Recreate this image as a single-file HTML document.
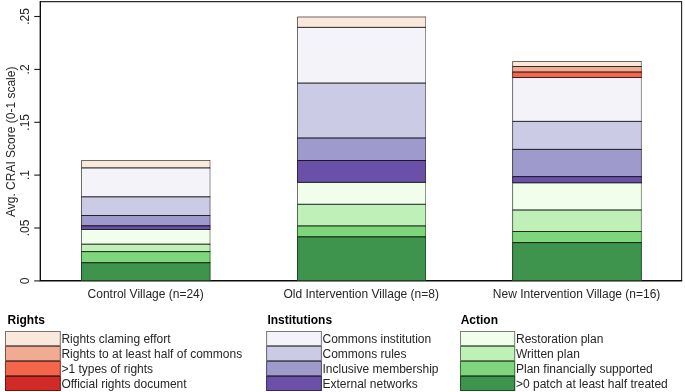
<!DOCTYPE html>
<html><head><meta charset="utf-8"><title>CRAI Score</title>
<style>
html,body{margin:0;padding:0;background:#fff;}
svg{display:block;}
text{font-family:"Liberation Sans",sans-serif;font-size:12px;fill:#262626;}
.b{font-weight:bold;fill:#000;}
</style></head><body>
<svg width="685" height="392" viewBox="0 0 685 392">
<rect x="0" y="0" width="685" height="392" fill="#fff"/>
<path d="M40.3,1.6 H681.6 V280.7" fill="none" stroke="#2a2a2a" stroke-width="1.15"/>
<path d="M40.3,1 V280.7 H682.2" fill="none" stroke="#0a0a0a" stroke-width="1.35" stroke-linecap="butt" stroke-linejoin="miter"/>
<line x1="34.2" y1="280.9" x2="40.3" y2="280.9" stroke="#1a1a1a" stroke-width="1.1"/>
<text transform="translate(29,280.9) rotate(-90)" text-anchor="middle">0</text>
<line x1="34.2" y1="228.0" x2="40.3" y2="228.0" stroke="#1a1a1a" stroke-width="1.1"/>
<text transform="translate(29,228.0) rotate(-90)" text-anchor="middle">.05</text>
<line x1="34.2" y1="175.1" x2="40.3" y2="175.1" stroke="#1a1a1a" stroke-width="1.1"/>
<text transform="translate(29,175.1) rotate(-90)" text-anchor="middle">.1</text>
<line x1="34.2" y1="122.3" x2="40.3" y2="122.3" stroke="#1a1a1a" stroke-width="1.1"/>
<text transform="translate(29,122.3) rotate(-90)" text-anchor="middle">.15</text>
<line x1="34.2" y1="69.4" x2="40.3" y2="69.4" stroke="#1a1a1a" stroke-width="1.1"/>
<text transform="translate(29,69.4) rotate(-90)" text-anchor="middle">.2</text>
<line x1="34.2" y1="16.5" x2="40.3" y2="16.5" stroke="#1a1a1a" stroke-width="1.1"/>
<text transform="translate(29,16.5) rotate(-90)" text-anchor="middle">.25</text>
<text transform="translate(15,141.8) rotate(-90)" text-anchor="middle">Avg. CRAI Score (0-1 scale)</text>
<rect x="81.00" y="160.00" width="129.50" height="8.40" fill="#f9e8dc"/>
<rect x="81.00" y="167.90" width="129.50" height="29.40" fill="#f4f3f9"/>
<rect x="81.00" y="196.80" width="129.50" height="19.20" fill="#cccbe6"/>
<rect x="81.00" y="215.50" width="129.50" height="10.75" fill="#9e9acb"/>
<rect x="81.00" y="225.75" width="129.50" height="4.25" fill="#6a50a8"/>
<rect x="81.00" y="229.50" width="129.50" height="15.20" fill="#f1feec"/>
<rect x="81.00" y="244.20" width="129.50" height="7.90" fill="#bef0b8"/>
<rect x="81.00" y="251.60" width="129.50" height="11.60" fill="#7fd57b"/>
<rect x="81.00" y="262.70" width="129.50" height="18.30" fill="#3e944c"/>
<path d="M81.5,167.9 V160.5 H210.0" fill="none" stroke="#000" stroke-opacity="0.55" stroke-width="1"/>
<path d="M81.5,167.9 H210.0" fill="none" stroke="#000" stroke-opacity="0.55" stroke-width="1"/>
<path d="M210.0,160.00 V168.40" fill="none" stroke="#000" stroke-opacity="0.4" stroke-width="1"/>
<path d="M81.5,196.8 V167.9 H210.0" fill="none" stroke="#000" stroke-opacity="0.55" stroke-width="1"/>
<path d="M81.5,196.8 H210.0" fill="none" stroke="#000" stroke-opacity="0.55" stroke-width="1"/>
<path d="M210.0,167.40 V197.30" fill="none" stroke="#000" stroke-opacity="0.4" stroke-width="1"/>
<path d="M81.5,215.5 V196.8 H210.0" fill="none" stroke="#000" stroke-opacity="0.55" stroke-width="1"/>
<path d="M81.5,215.5 H210.0" fill="none" stroke="#000" stroke-opacity="0.55" stroke-width="1"/>
<path d="M210.0,196.30 V216.00" fill="none" stroke="#000" stroke-opacity="0.4" stroke-width="1"/>
<path d="M81.5,225.75 V215.5 H210.0" fill="none" stroke="#000" stroke-opacity="0.55" stroke-width="1"/>
<path d="M81.5,225.75 H210.0" fill="none" stroke="#000" stroke-opacity="0.55" stroke-width="1"/>
<path d="M210.0,215.00 V226.25" fill="none" stroke="#000" stroke-opacity="0.4" stroke-width="1"/>
<path d="M81.5,229.5 V225.75 H210.0" fill="none" stroke="#000" stroke-opacity="0.55" stroke-width="1"/>
<path d="M81.5,229.5 H210.0" fill="none" stroke="#000" stroke-opacity="0.55" stroke-width="1"/>
<path d="M210.0,225.25 V230.00" fill="none" stroke="#000" stroke-opacity="0.4" stroke-width="1"/>
<path d="M81.5,244.2 V229.5 H210.0" fill="none" stroke="#000" stroke-opacity="0.55" stroke-width="1"/>
<path d="M81.5,244.2 H210.0" fill="none" stroke="#000" stroke-opacity="0.55" stroke-width="1"/>
<path d="M210.0,229.00 V244.70" fill="none" stroke="#000" stroke-opacity="0.4" stroke-width="1"/>
<path d="M81.5,251.6 V244.2 H210.0" fill="none" stroke="#000" stroke-opacity="0.55" stroke-width="1"/>
<path d="M81.5,251.6 H210.0" fill="none" stroke="#000" stroke-opacity="0.55" stroke-width="1"/>
<path d="M210.0,243.70 V252.10" fill="none" stroke="#000" stroke-opacity="0.4" stroke-width="1"/>
<path d="M81.5,262.7 V251.6 H210.0" fill="none" stroke="#000" stroke-opacity="0.55" stroke-width="1"/>
<path d="M81.5,262.7 H210.0" fill="none" stroke="#000" stroke-opacity="0.55" stroke-width="1"/>
<path d="M210.0,251.10 V263.20" fill="none" stroke="#000" stroke-opacity="0.4" stroke-width="1"/>
<path d="M81.5,280.5 V262.7 H210.0" fill="none" stroke="#000" stroke-opacity="0.55" stroke-width="1"/>
<path d="M81.5,280.5 H210.0" fill="none" stroke="#000" stroke-opacity="0.55" stroke-width="1"/>
<path d="M210.0,262.20 V281.00" fill="none" stroke="#000" stroke-opacity="0.4" stroke-width="1"/>
<rect x="297.00" y="16.50" width="129.00" height="11.40" fill="#f9e8dc"/>
<rect x="297.00" y="27.40" width="129.00" height="56.20" fill="#f4f3f9"/>
<rect x="297.00" y="83.10" width="129.00" height="55.40" fill="#cccbe6"/>
<rect x="297.00" y="138.00" width="129.00" height="23.00" fill="#9e9acb"/>
<rect x="297.00" y="160.50" width="129.00" height="22.40" fill="#6a50a8"/>
<rect x="297.00" y="182.40" width="129.00" height="22.40" fill="#f1feec"/>
<rect x="297.00" y="204.30" width="129.00" height="22.10" fill="#bef0b8"/>
<rect x="297.00" y="225.90" width="129.00" height="11.40" fill="#7fd57b"/>
<rect x="297.00" y="236.80" width="129.00" height="44.20" fill="#3e944c"/>
<path d="M297.5,27.4 V17.0 H425.5" fill="none" stroke="#000" stroke-opacity="0.55" stroke-width="1"/>
<path d="M297.5,27.4 H425.5" fill="none" stroke="#000" stroke-opacity="0.55" stroke-width="1"/>
<path d="M425.5,16.50 V27.90" fill="none" stroke="#000" stroke-opacity="0.4" stroke-width="1"/>
<path d="M297.5,83.1 V27.4 H425.5" fill="none" stroke="#000" stroke-opacity="0.55" stroke-width="1"/>
<path d="M297.5,83.1 H425.5" fill="none" stroke="#000" stroke-opacity="0.55" stroke-width="1"/>
<path d="M425.5,26.90 V83.60" fill="none" stroke="#000" stroke-opacity="0.4" stroke-width="1"/>
<path d="M297.5,138.0 V83.1 H425.5" fill="none" stroke="#000" stroke-opacity="0.55" stroke-width="1"/>
<path d="M297.5,138.0 H425.5" fill="none" stroke="#000" stroke-opacity="0.55" stroke-width="1"/>
<path d="M425.5,82.60 V138.50" fill="none" stroke="#000" stroke-opacity="0.4" stroke-width="1"/>
<path d="M297.5,160.5 V138.0 H425.5" fill="none" stroke="#000" stroke-opacity="0.55" stroke-width="1"/>
<path d="M297.5,160.5 H425.5" fill="none" stroke="#000" stroke-opacity="0.55" stroke-width="1"/>
<path d="M425.5,137.50 V161.00" fill="none" stroke="#000" stroke-opacity="0.4" stroke-width="1"/>
<path d="M297.5,182.4 V160.5 H425.5" fill="none" stroke="#000" stroke-opacity="0.55" stroke-width="1"/>
<path d="M297.5,182.4 H425.5" fill="none" stroke="#000" stroke-opacity="0.55" stroke-width="1"/>
<path d="M425.5,160.00 V182.90" fill="none" stroke="#000" stroke-opacity="0.4" stroke-width="1"/>
<path d="M297.5,204.3 V182.4 H425.5" fill="none" stroke="#000" stroke-opacity="0.55" stroke-width="1"/>
<path d="M297.5,204.3 H425.5" fill="none" stroke="#000" stroke-opacity="0.55" stroke-width="1"/>
<path d="M425.5,181.90 V204.80" fill="none" stroke="#000" stroke-opacity="0.4" stroke-width="1"/>
<path d="M297.5,225.9 V204.3 H425.5" fill="none" stroke="#000" stroke-opacity="0.55" stroke-width="1"/>
<path d="M297.5,225.9 H425.5" fill="none" stroke="#000" stroke-opacity="0.55" stroke-width="1"/>
<path d="M425.5,203.80 V226.40" fill="none" stroke="#000" stroke-opacity="0.4" stroke-width="1"/>
<path d="M297.5,236.8 V225.9 H425.5" fill="none" stroke="#000" stroke-opacity="0.55" stroke-width="1"/>
<path d="M297.5,236.8 H425.5" fill="none" stroke="#000" stroke-opacity="0.55" stroke-width="1"/>
<path d="M425.5,225.40 V237.30" fill="none" stroke="#000" stroke-opacity="0.4" stroke-width="1"/>
<path d="M297.5,280.5 V236.8 H425.5" fill="none" stroke="#000" stroke-opacity="0.55" stroke-width="1"/>
<path d="M297.5,280.5 H425.5" fill="none" stroke="#000" stroke-opacity="0.55" stroke-width="1"/>
<path d="M425.5,236.30 V281.00" fill="none" stroke="#000" stroke-opacity="0.4" stroke-width="1"/>
<rect x="512.10" y="61.00" width="129.80" height="6.00" fill="#f9e8dc"/>
<rect x="512.10" y="66.50" width="129.80" height="6.00" fill="#f2ab93"/>
<rect x="512.10" y="72.00" width="129.80" height="6.00" fill="#f4664b"/>
<rect x="512.10" y="77.50" width="129.80" height="44.40" fill="#f4f3f9"/>
<rect x="512.10" y="121.40" width="129.80" height="28.50" fill="#cccbe6"/>
<rect x="512.10" y="149.40" width="129.80" height="27.70" fill="#9e9acb"/>
<rect x="512.10" y="176.60" width="129.80" height="6.70" fill="#6a50a8"/>
<rect x="512.10" y="182.80" width="129.80" height="27.70" fill="#f1feec"/>
<rect x="512.10" y="210.00" width="129.80" height="22.00" fill="#bef0b8"/>
<rect x="512.10" y="231.50" width="129.80" height="11.60" fill="#7fd57b"/>
<rect x="512.10" y="242.60" width="129.80" height="38.40" fill="#3e944c"/>
<path d="M512.6,66.5 V61.5 H641.4" fill="none" stroke="#000" stroke-opacity="0.55" stroke-width="1"/>
<path d="M512.6,66.5 H641.4" fill="none" stroke="#000" stroke-opacity="0.55" stroke-width="1"/>
<path d="M641.4,61.00 V67.00" fill="none" stroke="#000" stroke-opacity="0.4" stroke-width="1"/>
<path d="M512.6,72.0 V66.5 H641.4" fill="none" stroke="#000" stroke-opacity="0.55" stroke-width="1"/>
<path d="M512.6,72.0 H641.4" fill="none" stroke="#000" stroke-opacity="0.55" stroke-width="1"/>
<path d="M641.4,66.00 V72.50" fill="none" stroke="#000" stroke-opacity="0.4" stroke-width="1"/>
<path d="M512.6,77.5 V72.0 H641.4" fill="none" stroke="#000" stroke-opacity="0.55" stroke-width="1"/>
<path d="M512.6,77.5 H641.4" fill="none" stroke="#000" stroke-opacity="0.55" stroke-width="1"/>
<path d="M641.4,71.50 V78.00" fill="none" stroke="#000" stroke-opacity="0.4" stroke-width="1"/>
<path d="M512.6,121.4 V77.5 H641.4" fill="none" stroke="#000" stroke-opacity="0.55" stroke-width="1"/>
<path d="M512.6,121.4 H641.4" fill="none" stroke="#000" stroke-opacity="0.55" stroke-width="1"/>
<path d="M641.4,77.00 V121.90" fill="none" stroke="#000" stroke-opacity="0.4" stroke-width="1"/>
<path d="M512.6,149.4 V121.4 H641.4" fill="none" stroke="#000" stroke-opacity="0.55" stroke-width="1"/>
<path d="M512.6,149.4 H641.4" fill="none" stroke="#000" stroke-opacity="0.55" stroke-width="1"/>
<path d="M641.4,120.90 V149.90" fill="none" stroke="#000" stroke-opacity="0.4" stroke-width="1"/>
<path d="M512.6,176.6 V149.4 H641.4" fill="none" stroke="#000" stroke-opacity="0.55" stroke-width="1"/>
<path d="M512.6,176.6 H641.4" fill="none" stroke="#000" stroke-opacity="0.55" stroke-width="1"/>
<path d="M641.4,148.90 V177.10" fill="none" stroke="#000" stroke-opacity="0.4" stroke-width="1"/>
<path d="M512.6,182.8 V176.6 H641.4" fill="none" stroke="#000" stroke-opacity="0.55" stroke-width="1"/>
<path d="M512.6,182.8 H641.4" fill="none" stroke="#000" stroke-opacity="0.55" stroke-width="1"/>
<path d="M641.4,176.10 V183.30" fill="none" stroke="#000" stroke-opacity="0.4" stroke-width="1"/>
<path d="M512.6,210.0 V182.8 H641.4" fill="none" stroke="#000" stroke-opacity="0.55" stroke-width="1"/>
<path d="M512.6,210.0 H641.4" fill="none" stroke="#000" stroke-opacity="0.55" stroke-width="1"/>
<path d="M641.4,182.30 V210.50" fill="none" stroke="#000" stroke-opacity="0.4" stroke-width="1"/>
<path d="M512.6,231.5 V210.0 H641.4" fill="none" stroke="#000" stroke-opacity="0.55" stroke-width="1"/>
<path d="M512.6,231.5 H641.4" fill="none" stroke="#000" stroke-opacity="0.55" stroke-width="1"/>
<path d="M641.4,209.50 V232.00" fill="none" stroke="#000" stroke-opacity="0.4" stroke-width="1"/>
<path d="M512.6,242.6 V231.5 H641.4" fill="none" stroke="#000" stroke-opacity="0.55" stroke-width="1"/>
<path d="M512.6,242.6 H641.4" fill="none" stroke="#000" stroke-opacity="0.55" stroke-width="1"/>
<path d="M641.4,231.00 V243.10" fill="none" stroke="#000" stroke-opacity="0.4" stroke-width="1"/>
<path d="M512.6,280.5 V242.6 H641.4" fill="none" stroke="#000" stroke-opacity="0.55" stroke-width="1"/>
<path d="M512.6,280.5 H641.4" fill="none" stroke="#000" stroke-opacity="0.55" stroke-width="1"/>
<path d="M641.4,242.10 V281.00" fill="none" stroke="#000" stroke-opacity="0.4" stroke-width="1"/>
<text x="145.7" y="297.8" text-anchor="middle">Control Village (n=24)</text>
<text x="361.2" y="297.8" text-anchor="middle">Old Intervention Village (n=8)</text>
<text x="576.6" y="297.8" text-anchor="middle">New Intervention Village (n=16)</text>
<text class="b" x="7.5" y="324">Rights</text>
<rect x="5.0" y="331.0" width="55.8" height="15" fill="#f9e8dc"/>
<rect x="5.5" y="331.5" width="54.8" height="14" fill="none" stroke="#000" stroke-width="1" stroke-opacity="0.5"/>
<text x="61.4" y="342.9">Rights claming effort</text>
<rect x="5.0" y="346.0" width="55.8" height="15" fill="#f2ab93"/>
<rect x="5.5" y="346.5" width="54.8" height="14" fill="none" stroke="#000" stroke-width="1" stroke-opacity="0.5"/>
<text x="61.4" y="357.9">Rights to at least half of commons</text>
<rect x="5.0" y="361.0" width="55.8" height="15" fill="#f4664b"/>
<rect x="5.5" y="361.5" width="54.8" height="14" fill="none" stroke="#000" stroke-width="1" stroke-opacity="0.5"/>
<text x="61.4" y="372.9">&gt;1 types of rights</text>
<rect x="5.0" y="376.0" width="55.8" height="15" fill="#d12a27"/>
<rect x="5.5" y="376.5" width="54.8" height="14" fill="none" stroke="#000" stroke-width="1" stroke-opacity="0.5"/>
<text x="61.4" y="387.9">Official rights document</text>
<text class="b" x="267.4" y="324">Institutions</text>
<rect x="266.1" y="331.0" width="55.8" height="15" fill="#f4f3f9"/>
<rect x="266.6" y="331.5" width="54.8" height="14" fill="none" stroke="#000" stroke-width="1" stroke-opacity="0.5"/>
<text x="322.5" y="342.9">Commons institution</text>
<rect x="266.1" y="346.0" width="55.8" height="15" fill="#cccbe6"/>
<rect x="266.6" y="346.5" width="54.8" height="14" fill="none" stroke="#000" stroke-width="1" stroke-opacity="0.5"/>
<text x="322.5" y="357.9">Commons rules</text>
<rect x="266.1" y="361.0" width="55.8" height="15" fill="#9e9acb"/>
<rect x="266.6" y="361.5" width="54.8" height="14" fill="none" stroke="#000" stroke-width="1" stroke-opacity="0.5"/>
<text x="322.5" y="372.9">Inclusive membership</text>
<rect x="266.1" y="376.0" width="55.8" height="15" fill="#6a50a8"/>
<rect x="266.6" y="376.5" width="54.8" height="14" fill="none" stroke="#000" stroke-width="1" stroke-opacity="0.5"/>
<text x="322.5" y="387.9">External networks</text>
<text class="b" x="460.7" y="324">Action</text>
<rect x="460.0" y="331.0" width="55.2" height="15" fill="#f1feec"/>
<rect x="460.5" y="331.5" width="54.2" height="14" fill="none" stroke="#000" stroke-width="1" stroke-opacity="0.5"/>
<text x="516.0" y="342.9">Restoration plan</text>
<rect x="460.0" y="346.0" width="55.2" height="15" fill="#bef0b8"/>
<rect x="460.5" y="346.5" width="54.2" height="14" fill="none" stroke="#000" stroke-width="1" stroke-opacity="0.5"/>
<text x="516.0" y="357.9">Written plan</text>
<rect x="460.0" y="361.0" width="55.2" height="15" fill="#7fd57b"/>
<rect x="460.5" y="361.5" width="54.2" height="14" fill="none" stroke="#000" stroke-width="1" stroke-opacity="0.5"/>
<text x="516.0" y="372.9">Plan financially supported</text>
<rect x="460.0" y="376.0" width="55.2" height="15" fill="#3e944c"/>
<rect x="460.5" y="376.5" width="54.2" height="14" fill="none" stroke="#000" stroke-width="1" stroke-opacity="0.5"/>
<text x="516.0" y="387.9">&gt;0 patch at least half treated</text>
</svg></body></html>
